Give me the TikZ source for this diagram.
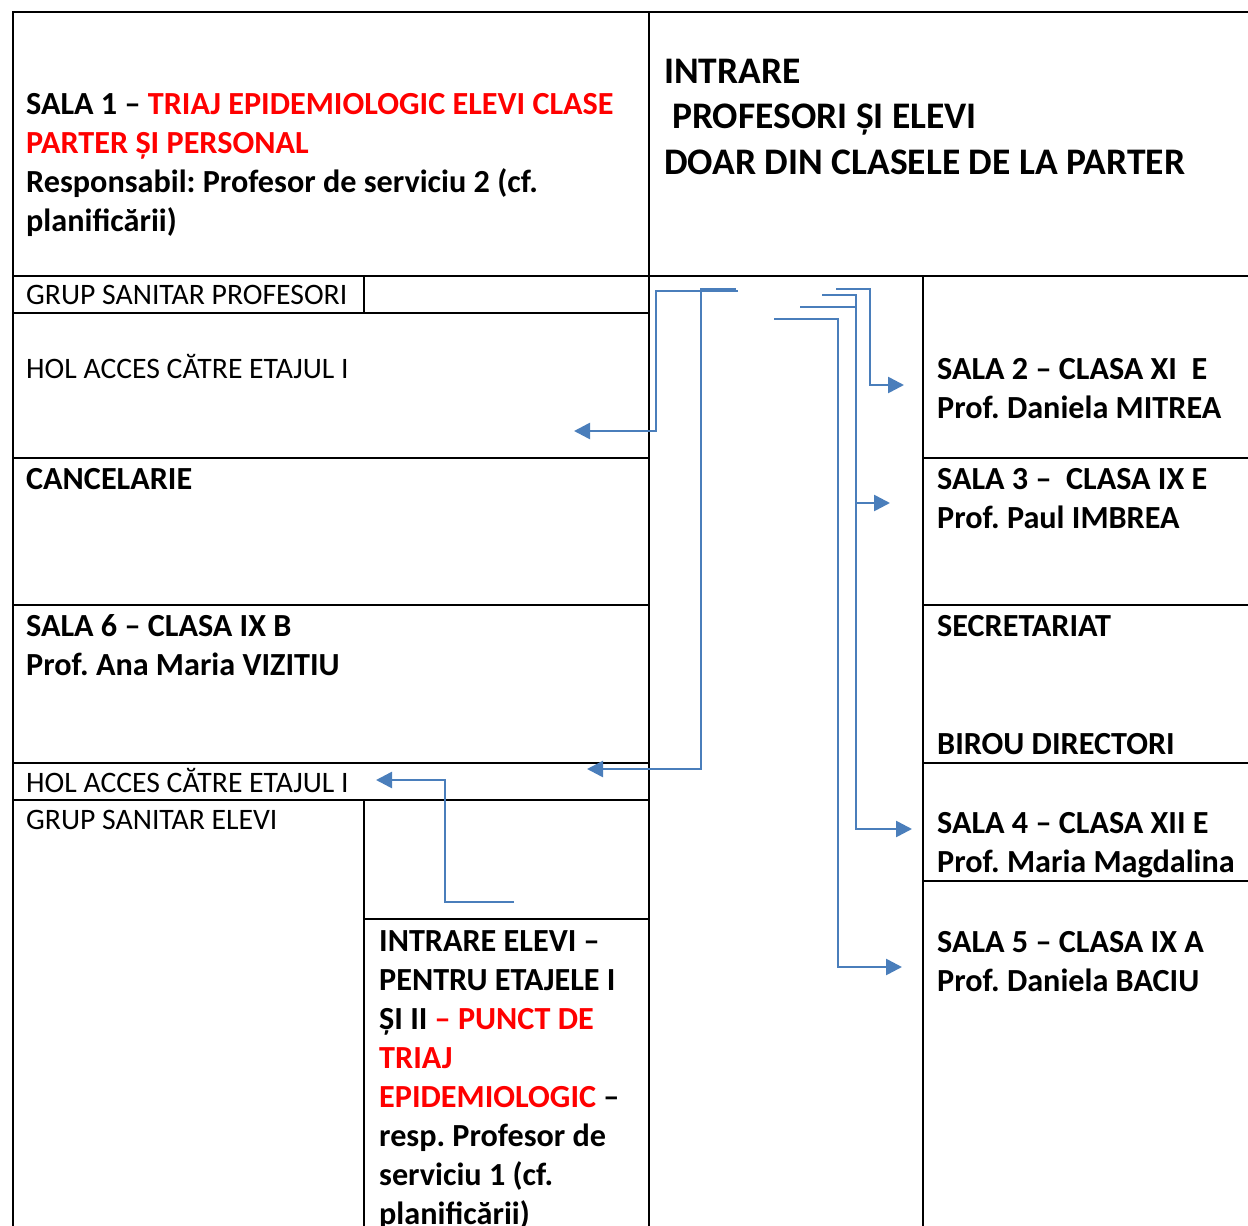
\documentclass[tikz,border=0pt]{standalone}
\usepackage{fontspec}
\setmainfont{Carlito}
\usetikzlibrary{arrows.meta}
\definecolor{flowblue}{HTML}{4A7EBB}
\definecolor{triajred}{HTML}{FF0000}
\newcommand{\wallWidth}{2.7}
\newcommand{\flowWidth}{2.6}
\newcommand{\leftX}{13}
\newcommand{\innerX}{364}
\newcommand{\midX}{649}
\newcommand{\rightX}{923}
\newcommand{\pageRightX}{1248}
\newcommand{\topY}{12}
\newcommand{\pageBottomY}{1226}
\tikzset{
    wall/.style={line width=\wallWidth, black},
    flow/.style={line width=\flowWidth, flowblue, -{Triangle[length=16pt,width=16pt]}},
    roomtext/.style={anchor=north west, inner sep=0pt, align=left, font=\fontsize{32.2}{39}\selectfont\bfseries\frenchspacing},
    plaintext/.style={anchor=north west, inner sep=0pt, align=left, font=\fontsize{29.7}{39}\selectfont\frenchspacing},
    bigtext/.style={anchor=north west, inner sep=0pt, align=left, font=\fontsize{37.5}{45.5}\selectfont\bfseries\frenchspacing}
}
\begin{document}
\begin{tikzpicture}[x=1pt,y=-1pt]
        \useasboundingbox (0,0) rectangle (1248,1226);

        % Draw walls
        \draw [wall] (\leftX,\pageBottomY) -- (\leftX,\topY) -- (\pageRightX,\topY);
        \draw [wall] (\midX,\topY) -- (\midX,\pageBottomY);
        \draw [wall] (\rightX,276) -- (\rightX,\pageBottomY);
        \draw [wall] (\leftX,276) -- (\pageRightX,276);
        \draw [wall] (\innerX,276) -- (\innerX,313);
        \draw [wall] (\leftX,313) -- (\midX,313);
        \draw [wall] (\leftX,458) -- (\midX,458);
        \draw [wall] (\rightX,458) -- (\pageRightX,458);
        \draw [wall] (\leftX,605) -- (\midX,605);
        \draw [wall] (\rightX,605) -- (\pageRightX,605);
        \draw [wall] (\leftX,763) -- (\midX,763);
        \draw [wall] (\rightX,763) -- (\pageRightX,763);
        \draw [wall] (\leftX,800) -- (\midX,800);
        \draw [wall] (\innerX,800) -- (\innerX,\pageBottomY);
        \draw [wall] (\innerX,919) -- (\midX,919);
        \draw [wall] (\rightX,881) -- (\pageRightX,881);

        % Left column
        \node[roomtext] (sala1) at (26,93.5) {SALA 1 -- \textcolor{triajred}{TRIAJ EPIDEMIOLOGIC ELEVI CLASE}\\\textcolor{triajred}{PARTER ȘI PERSONAL}\\Responsabil: Profesor de serviciu 2 (cf.\\planificării)};
        \node[plaintext] (grupProf) at (26,285) {GRUP SANITAR PROFESORI};
        \node[plaintext] (holSus) at (26,354) {HOL ACCES CĂTRE ETAJUL I};
        \node[roomtext] (cancelarie) at (26,468) {CANCELARIE};
        \node[roomtext] (sala6) at (26,614) {SALA 6 -- CLASA IX B\\Prof. Ana Maria VIZITIU};
        \node[plaintext] (holJos) at (26,768) {HOL ACCES CĂTRE ETAJUL I};
        \node[plaintext] (grupElevi) at (26,810) {GRUP SANITAR ELEVI};
        \node[roomtext] (intrareElevi) at (379,930) {INTRARE ELEVI --\\PENTRU ETAJELE I\\ȘI II \textcolor{triajred}{-- PUNCT DE}\\\textcolor{triajred}{TRIAJ}\\\textcolor{triajred}{EPIDEMIOLOGIC} --\\resp. Profesor de\\serviciu 1 (cf.\\planificării)};

        % Right column
        \node[bigtext] (intrare) at (664,58.5) {INTRARE\\\hspace*{8pt}PROFESORI ȘI ELEVI\\DOAR DIN CLASELE DE LA PARTER};
        \node[roomtext] (sala2) at (937,358) {SALA 2 -- CLASA XI\ \ E\\Prof. Daniela MITREA};
        \node[roomtext] (sala3) at (937,468) {SALA 3 --\ \ CLASA IX E\\Prof. Paul IMBREA};
        \node[roomtext] (secretariat) at (937,615) {SECRETARIAT};
        \node[roomtext] (birou) at (937,733) {BIROU DIRECTORI};
        \node[roomtext] (sala4) at (937,812) {SALA 4 -- CLASA XII E\\Prof. Maria Magdalina};
        \node[roomtext] (sala5) at (937,931) {SALA 5 -- CLASA IX A\\Prof. Daniela BACIU};

        % Arrow ends
        \coordinate (holSusStart) at (738,291);
        \coordinate (holSusEnd) at (574,431);
        \coordinate (holJosStart) at (736,289);
        \coordinate (holJosEnd) at (587,769);
        \coordinate (sala2Start) at (836,289);
        \coordinate (sala2End) at (904,385);
        \coordinate (sala4Start) at (822,295);
        \coordinate (sala4End) at (912,829);
        \coordinate (sala3Start) at (800,307);
        \coordinate (sala3End) at (890,503);
        \coordinate (sala5Start) at (774,319);
        \coordinate (sala5End) at (902,967);
        \coordinate (eleviStart) at (514,902);
        \coordinate (eleviEnd) at (376,780);

        % Draw arrows
        \draw [flow] (holSusStart) -- (656,291) -- (656,431) -- (holSusEnd);
        \draw [flow] (holJosStart) -- (701,289) -- (701,769) -- (holJosEnd);
        \draw [flow] (sala2Start) -- (870,289) -- (870,385) -- (sala2End);
        \draw [flow] (sala4Start) -- (856,295) -- (856,829) -- (sala4End);
        \draw [flow] (sala3Start) -- (856,307) -- (856,503) -- (sala3End);
        \draw [flow] (sala5Start) -- (838,319) -- (838,967) -- (sala5End);
        \draw [flow] (eleviStart) -- (445,902) -- (445,780) -- (eleviEnd);
\end{tikzpicture}
\end{document}
